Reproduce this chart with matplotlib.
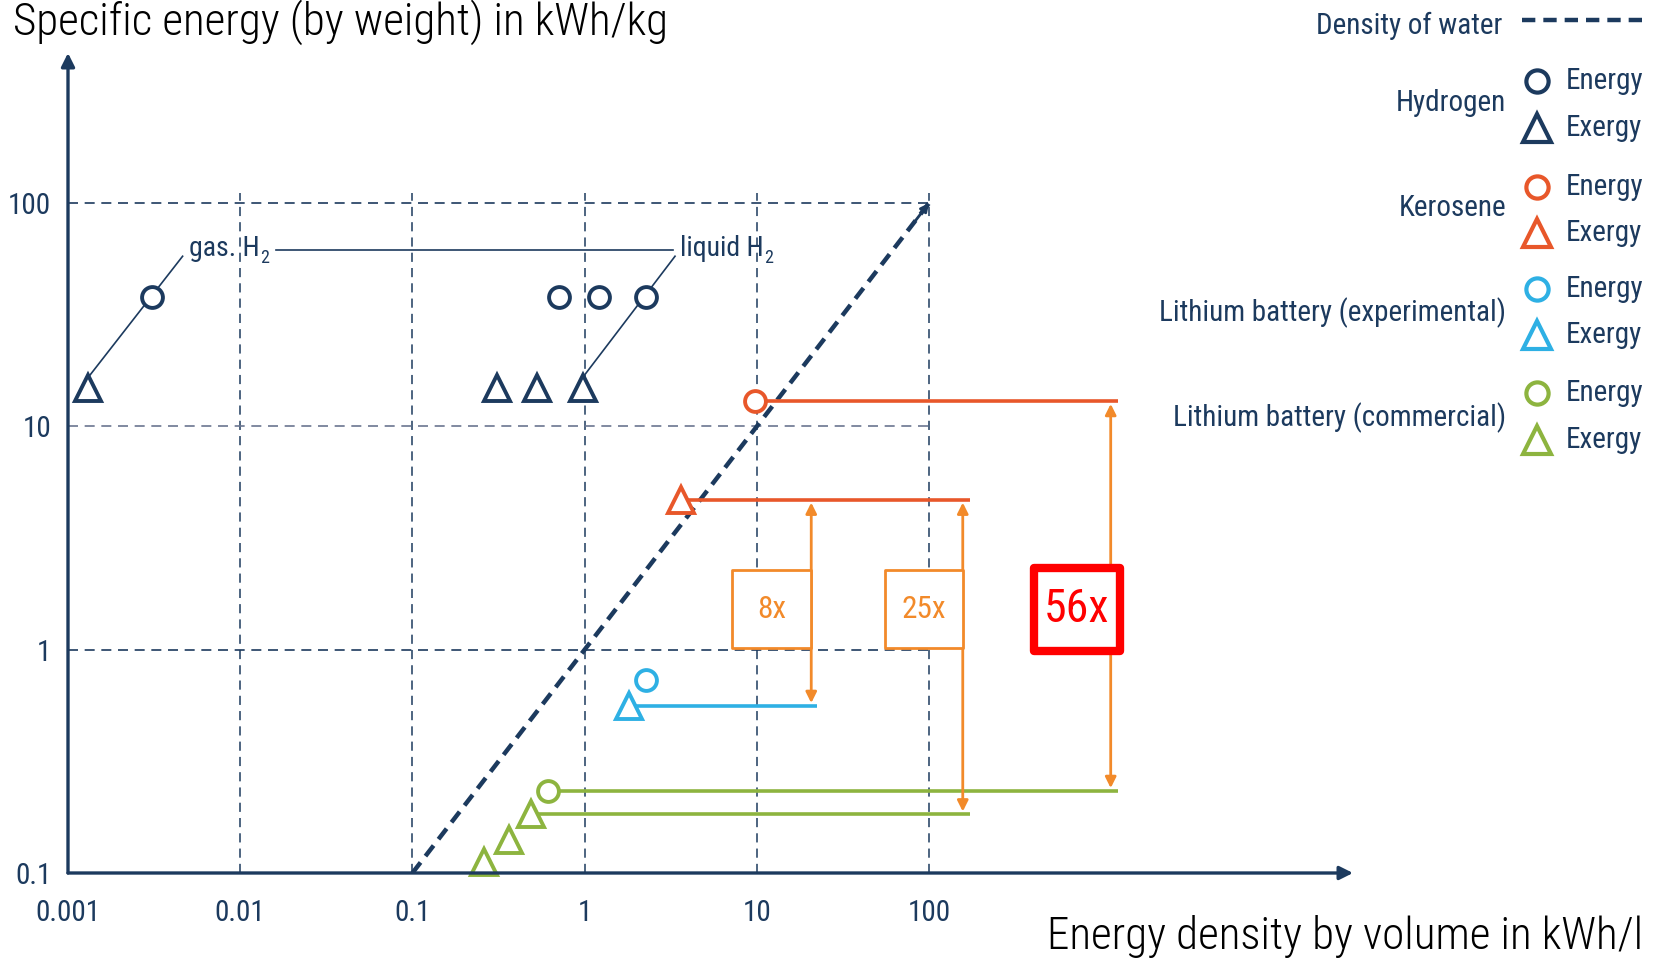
import matplotlib

matplotlib.use("Agg")
import matplotlib.pyplot as plt
from matplotlib.patches import Rectangle

# values (x: kWh/l, y: kWh/kg)
h2_energy_x = [0.00307, 0.71, 1.21, 2.26]
h2_energy_y = [38.0, 38.0, 38.0, 38.0]
h2_exergy_x = [0.0013, 0.309, 0.528, 0.98]
h2_exergy_y = [14.8, 14.8, 14.8, 14.8]
kero_energy_x, kero_energy_y = [9.8], [13.0]
kero_exergy_x, kero_exergy_y = [3.65], [4.7]
li_exp_energy_x, li_exp_energy_y = [2.26], [0.73]
li_exp_exergy_x, li_exp_exergy_y = [1.80], [0.56]
li_com_energy_x, li_com_energy_y = [0.61], [0.233]
li_com_exergy_x = [0.485, 0.366, 0.261]
li_com_exergy_y = [0.183, 0.140, 0.112]

x_ticks = [0.001, 0.01, 0.1, 1, 10, 100]
x_tick_labels = ["0.001", "0.01", "0.1", "1", "10", "100"]
y_ticks = [0.1, 1, 10, 100]
y_tick_labels = ["0.1", "1", "10", "100"]
ratio_labels = ["8x", "25x", "56x"]

NAVY = "#1c3a5e"
GRID_GREY = "#6b7590"
KERO = "#e8572a"
LI_EXP = "#2eb0e4"
LI_COM = "#8db43f"
ARROW = "#f28a2a"
RED = "#ff0000"
FONT = ["Liberation Sans Narrow", "Roboto Condensed", "DejaVu Sans Condensed", "Roboto", "DejaVu Sans"]

W_PX, H_PX = 1654, 964


def fx(x):
    return x / W_PX


def fy(y):
    return 1 - y / H_PX


plt.rcParams["font.family"] = FONT
plt.rcParams["font.stretch"] = "condensed"

fig = plt.figure(figsize=(W_PX / 100, H_PX / 100), dpi=100)
ax = fig.add_axes([fx(68), fy(873), (1353 - 68) / W_PX, (873 - 53) / H_PX])
ax.set_xscale("log")
ax.set_yscale("log")
ax.set_xlim(1e-3, 10 ** 4.462)
ax.set_ylim(0.1, 10 ** 2.672)
for side in ("top", "right", "left", "bottom"):
    ax.spines[side].set_visible(False)
ax.minorticks_off()
ax.set_xticks(x_ticks, x_tick_labels)
ax.set_yticks(y_ticks, y_tick_labels)
ax.tick_params(axis="x", length=0, pad=19, labelsize=21, labelcolor=NAVY)
ax.tick_params(axis="y", length=0, pad=12, labelsize=21, labelcolor=NAVY)

# axes with arrow heads
arrow_kw = dict(arrowstyle="-|>", lw=2.4, color=NAVY, mutation_scale=20, shrinkA=0, shrinkB=0)
ax.annotate("", xy=(1, 0), xytext=(0, 0), xycoords="axes fraction", arrowprops=arrow_kw, zorder=6)
ax.annotate("", xy=(0, 1), xytext=(0, 0), xycoords="axes fraction", arrowprops=arrow_kw, zorder=6)

# dashed grid
grid_dash = (0, (6, 4))
for x in x_ticks[1:]:
    ax.plot([x, x], [0.1, 111], ls=grid_dash, lw=1.1, color=NAVY, zorder=1)
for y in y_ticks[1:]:
    color = GRID_GREY if y == 10 else NAVY
    ax.plot([1e-3, 100], [y, y], ls=grid_dash, lw=1.2, color=color, zorder=1)

# density of water
ax.plot([0.1, 100], [0.1, 100], ls=(0, (3, 1.8)), lw=3.2, color=NAVY, zorder=2)
ax.annotate("", xy=(100, 100), xytext=(80, 80),
            arrowprops=dict(arrowstyle="-|>", lw=2, color=NAVY, mutation_scale=12, shrinkA=0, shrinkB=0), zorder=2)

# hydrogen labels and leaders
ax.plot([0.00132, 0.00463], [16.7, 57.8], lw=1.2, color=NAVY, zorder=3)
ax.plot([0.983, 3.35], [16.7, 57.8], lw=1.2, color=NAVY, zorder=3)
ax.plot([0.01614, 3.26], [61.7, 61.7], lw=1.2, color=NAVY, zorder=3)
for x_px, text in ((189, "gas. H"), (680, "liquid H")):
    label = fig.text(fx(x_px), fy(249), text, fontsize=20, color=NAVY, va="center", ha="left")
    ax.annotate("2", xy=(1, 0.15), xycoords=label, xytext=(0.5, 0), textcoords="offset points",
                fontsize=13, color=NAVY, ha="left", va="center")

# comparison lines
line_kw = dict(lw=2.6, zorder=3, solid_capstyle="butt")
ax.plot([kero_energy_x[0], 1253], [kero_energy_y[0]] * 2, color=KERO, **line_kw)
ax.plot([kero_exergy_x[0], 174], [kero_exergy_y[0]] * 2, color=KERO, **line_kw)
ax.plot([li_exp_exergy_x[0], 22.5], [li_exp_exergy_y[0]] * 2, color=LI_EXP, **line_kw)
ax.plot([li_com_energy_x[0], 1253], [li_com_energy_y[0]] * 2, color=LI_COM, **line_kw)
ax.plot([li_com_exergy_x[0], 174], [li_com_exergy_y[0]] * 2, color=LI_COM, **line_kw)

# ratio arrows and boxes
ratio_arrows = [
    (20.7, li_exp_exergy_y[0], kero_exergy_y[0], (7.18, 20.7), ARROW),
    (157, li_com_exergy_y[0], kero_exergy_y[0], (55.6, 157), ARROW),
    (1135, li_com_energy_y[0], kero_energy_y[0], (407, 1285), RED),
]
for (ax_x, y0, y1, (bx0, bx1), box_color), label in zip(ratio_arrows, ratio_labels):
    ax.annotate("", xy=(ax_x, y1 * 0.97), xytext=(ax_x, y0 * 1.03),
                arrowprops=dict(arrowstyle="<|-|>", lw=2, color=ARROW, mutation_scale=16,
                                shrinkA=0, shrinkB=0), zorder=4)
    if box_color == RED:
        by0, by1, lw, size = 0.986, 2.33, 6, 33
    else:
        by0, by1, lw, size = 1.018, 2.27, 2, 22.5
    ax.add_patch(Rectangle((bx0, by0), bx1 - bx0, by1 - by0, facecolor="white", edgecolor=box_color,
                           lw=lw, zorder=5, joinstyle="round"))
    xm = (bx0 * bx1) ** 0.5
    ym = (by0 * by1) ** 0.5
    ax.text(xm, ym, label, color=box_color, fontsize=size, ha="center", va="center", zorder=6)

# markers
circle_kw = dict(ls="none", marker="o", markersize=15, markeredgewidth=2.8, markerfacecolor="white",
                 zorder=5, clip_on=False)
tri_kw = dict(ls="none", marker="^", markersize=19, markeredgewidth=2.8, markerfacecolor="white",
              zorder=5, clip_on=False)
ax.plot(h2_energy_x, h2_energy_y, markeredgecolor=NAVY, **circle_kw)
ax.plot(h2_exergy_x, h2_exergy_y, markeredgecolor=NAVY, **tri_kw)
ax.plot(kero_energy_x, kero_energy_y, markeredgecolor=KERO, **circle_kw)
ax.plot(kero_exergy_x, kero_exergy_y, markeredgecolor=KERO, **tri_kw)
ax.plot(li_exp_energy_x, li_exp_energy_y, markeredgecolor=LI_EXP, **circle_kw)
ax.plot(li_exp_exergy_x, li_exp_exergy_y, markeredgecolor=LI_EXP, **tri_kw)
ax.plot(li_com_energy_x, li_com_energy_y, markeredgecolor=LI_COM, **circle_kw)
ax.plot(li_com_exergy_x, li_com_exergy_y, markeredgecolor=LI_COM, **tri_kw)

# titles
fig.text(fx(13), fy(22), "Specific energy (by weight) in kWh/kg", fontsize=32.5, color="black",
         fontweight="light", ha="left", va="center")
fig.text(fx(1643), fy(936), "Energy density by volume in kWh/l", fontsize=32.5, color="black",
         fontweight="light", ha="right", va="center")

# legend (hand-built on the right)
fig.text(fx(1502), fy(26), "Density of water", fontsize=21, color=NAVY, ha="right", va="center")
fig.add_artist(plt.Line2D([fx(1522), fx(1643)], [fy(20), fy(20)], ls=(0, (3, 1.8)), lw=3.2, color=NAVY))
groups = [
    ("Hydrogen", NAVY, 103, 81, 128),
    ("Kerosene", KERO, 208, 187, 233),
    ("Lithium battery (experimental)", LI_EXP, 313, 289, 335),
    ("Lithium battery (commercial)", LI_COM, 418, 393, 440),
]
for name, color, y_name, y_en, y_ex in groups:
    fig.text(fx(1506), fy(y_name), name, fontsize=21, color=NAVY, ha="right", va="center")
    fig.add_artist(plt.Line2D([fx(1537)], [fy(y_en)], marker="o", markersize=16, markeredgewidth=3,
                              markerfacecolor="white", markeredgecolor=color))
    fig.add_artist(plt.Line2D([fx(1537)], [fy(y_ex)], marker="^", markersize=20, markeredgewidth=3,
                              markerfacecolor="white", markeredgecolor=color))
    fig.text(fx(1566), fy(y_en), "Energy", fontsize=21, color=NAVY, ha="left", va="center")
    fig.text(fx(1566), fy(y_ex), "Exergy", fontsize=21, color=NAVY, ha="left", va="center")

fig.savefig("out.png", dpi=100)
